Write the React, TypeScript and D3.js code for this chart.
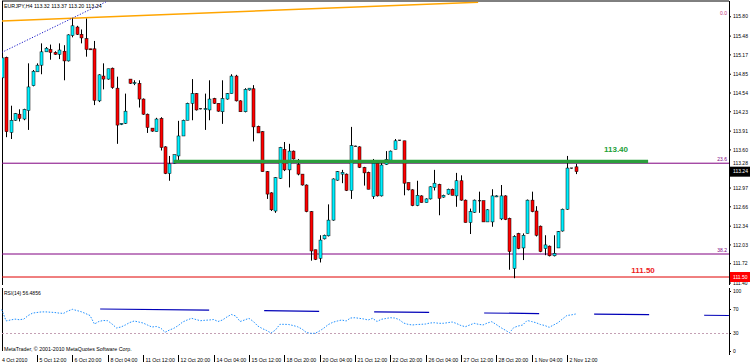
import * as d3 from "d3";

// EURJPY H4, 4 Oct 2010 .. 2 Nov 2010
const opens = [
  114.79, 115.13, 113.89, 114.09, 114.19, 114.11, 114.25, 114.66, 114.89, 115.0,
  115.22, 115.26, 115.21, 115.18, 115.23, 115.07, 115.49, 115.63, 115.51, 115.44,
  115.27, 115.27, 114.41, 114.82, 114.77, 114.95, 114.62, 114.02, 114.04, 114.77,
  114.7, 114.7, 114.44, 114.19, 113.96, 113.9, 114.12, 113.65, 113.21, 113.38,
  113.5, 113.83, 114.09, 114.37, 114.53, 114.28, 114.27, 114.26, 114.45, 114.37,
  114.23, 114.44, 114.53, 114.82, 114.41, 114.23, 114.59, 114.61, 113.99, 113.9,
  113.24, 112.89, 112.59, 113.13, 113.61, 113.27, 113.58, 113.36, 113.2, 113.02,
  112.58, 111.95, 111.81, 112.13, 112.18, 112.44, 113.1, 113.2, 113.2, 112.93,
  113.66, 113.65, 113.31, 113.23, 112.83, 113.38, 112.84, 113.36, 113.43, 113.61,
  113.76, 113.75, 113.06, 112.94, 112.68, 112.84, 112.73, 112.79, 112.98, 113.03,
  112.82, 112.87, 112.95, 112.84, 113.09, 112.77, 112.4, 112.57, 112.76, 112.76,
  112.41, 112.41, 112.83, 112.46, 112.84, 112.47, 111.64, 112.22, 111.98, 112.22,
  112.77, 112.59, 112.34, 111.97, 112.01, 111.85, 111.98, 112.26, 112.62, 113.3,
  113.32,
];
const highs = [
  115.13, 115.14, 114.33, 114.21, 114.27, 114.28, 115.03, 114.92, 115.03, 115.36,
  115.3, 115.34, 115.23, 115.36, 115.33, 115.51, 115.77, 115.65, 115.59, 115.77,
  115.27, 115.4, 114.85, 115.03, 114.94, 114.96, 114.81, 114.04, 114.53, 114.77,
  114.75, 114.75, 114.45, 114.2, 113.96, 114.13, 114.14, 113.66, 113.5, 113.52,
  114.08, 114.1, 114.38, 114.77, 114.54, 114.28, 114.53, 114.75, 114.46, 114.37,
  114.75, 114.54, 114.85, 114.84, 114.42, 114.62, 114.62, 114.67, 114.0, 113.91,
  113.25, 112.9, 113.15, 113.65, 113.73, 113.7, 113.59, 113.45, 113.2, 113.03,
  112.59, 111.95, 112.19, 112.2, 112.7, 113.13, 113.25, 113.27, 113.21, 113.98,
  113.67, 113.66, 113.32, 113.24, 113.45, 113.38, 113.42, 113.58, 113.59, 113.78,
  113.76, 113.75, 113.06, 112.95, 113.09, 112.85, 112.8, 113.0, 113.27, 113.04,
  112.86, 112.96, 112.96, 113.22, 113.18, 112.78, 112.63, 112.78, 112.91, 112.76,
  112.62, 112.95, 112.85, 113.02, 112.85, 112.48, 112.19, 112.23, 112.22, 112.78,
  112.91, 112.67, 112.35, 112.19, 112.02, 112.19, 112.26, 112.63, 113.5, 113.3,
  113.37,
];
const lows = [
  114.77, 113.81, 113.78, 114.08, 114.07, 114.09, 113.93, 114.65, 114.89, 114.85,
  115.22, 115.09, 115.17, 115.1, 114.75, 115.06, 115.46, 115.5, 115.36, 115.14,
  115.25, 114.34, 114.39, 114.6, 114.76, 114.61, 113.7, 114.01, 114.03, 114.69,
  114.67, 114.3, 114.18, 113.88, 113.9, 113.9, 113.59, 113.2, 113.09, 113.37,
  113.43, 113.83, 114.09, 114.09, 114.25, 114.27, 113.93, 114.09, 114.36, 114.23,
  114.03, 114.43, 114.53, 114.4, 114.23, 114.22, 114.58, 113.74, 113.88, 113.24,
  112.79, 112.59, 112.56, 113.12, 113.25, 112.98, 113.44, 113.18, 113.01, 112.57,
  111.77, 111.78, 111.74, 112.12, 112.17, 112.43, 113.09, 113.05, 112.92, 112.79,
  113.66, 113.3, 113.01, 112.95, 112.79, 112.83, 112.83, 113.35, 113.42, 113.61,
  113.75, 112.85, 112.93, 112.67, 112.67, 112.73, 112.73, 112.78, 112.93, 112.52,
  112.81, 112.86, 112.85, 112.66, 112.76, 112.4, 112.21, 112.56, 112.56, 112.41,
  112.41, 112.33, 112.82, 112.44, 112.44, 111.62, 111.48, 111.96, 111.78, 112.22,
  112.57, 112.17, 111.91, 111.86, 111.84, 111.84, 111.98, 112.25, 112.61, 113.29,
  113.2,
];
const closes = [
  115.12, 113.9, 114.09, 114.2, 114.12, 114.27, 114.64, 114.9, 115.0, 115.22,
  115.28, 115.21, 115.18, 115.25, 115.07, 115.5, 115.65, 115.51, 115.45, 115.26,
  115.26, 114.42, 114.84, 114.77, 114.94, 114.63, 114.01, 114.04, 114.24, 114.7,
  114.71, 114.44, 114.19, 113.97, 113.91, 114.11, 113.64, 113.21, 113.37, 113.52,
  113.83, 114.09, 114.37, 114.53, 114.26, 114.28, 114.28, 114.44, 114.37, 114.24,
  114.45, 114.53, 114.82, 114.41, 114.23, 114.6, 114.62, 113.98, 113.88, 113.24,
  112.87, 112.61, 113.14, 113.64, 113.27, 113.58, 113.45, 113.2, 113.02, 112.58,
  111.93, 111.79, 112.11, 112.19, 112.44, 113.12, 113.24, 113.23, 112.93, 113.67,
  113.66, 113.31, 113.22, 112.95, 113.38, 112.84, 113.35, 113.44, 113.58, 113.75,
  113.76, 113.05, 112.94, 112.68, 112.85, 112.73, 112.79, 112.99, 113.05, 112.8,
  112.85, 112.95, 112.85, 113.09, 112.77, 112.4, 112.58, 112.77, 112.76, 112.41,
  112.61, 112.84, 112.84, 112.84, 112.45, 111.92, 112.17, 111.97, 112.19, 112.77,
  112.58, 112.19, 111.92, 112.03, 111.85, 111.89, 112.25, 112.62, 113.3, 113.3,
  113.24,
];

const rsiValues = [
  70, 51, 52.5, 54, 53, 54, 60, 64, 65, 66,
  66, 65.5, 65, 64, 63.5, 67.5, 70.3, 68.3, 66.3, 63.3,
  60, 45.8, 50, 51.7, 51.3, 45.8, 39.2, 40.8, 44.2, 48.3,
  50.8, 49.2, 47.5, 44.2, 40.8, 41.7, 39.2, 32, 35.8, 38.7,
  43.3, 49.2, 52.5, 55.3, 53.3, 51.3, 52, 52.5, 53.3, 50,
  52.5, 57.5, 61.7, 59.2, 50, 52.5, 55.3, 50, 42.5, 38.3,
  35, 30.8, 35.8, 45.3, 45.3, 45, 43.3, 41.3, 37.5, 31.7,
  30.3, 30.3, 34.2, 39.2, 45, 48.7, 50.8, 52.5, 50.8, 55.8,
  56.3, 55.3, 54.2, 52.5, 55.3, 50, 53.7, 55, 56.3, 55.8,
  53.3, 47.5, 45.3, 44.2, 45, 45.3, 45.8, 47.5, 48, 47,
  47, 48, 49.2, 46.7, 43.3, 41.3, 44.2, 47, 45.3, 44.2,
  47.5, 49.7, 45, 40, 35.8, 31.3, 40, 42.5, 44.2, 51.7,
  50, 48, 45, 43.3, 40.3, 44.2, 48, 54.2, 60, 61,
  62.5,
];

const timeLabels = [
  "4 Oct 2010", "5 Oct 12:00", "6 Oct 20:00", "8 Oct 04:00", "11 Oct 12:00",
  "12 Oct 20:00", "14 Oct 04:00", "15 Oct 12:00", "18 Oct 20:00", "20 Oct 04:00",
  "21 Oct 12:00", "22 Oct 20:00", "26 Oct 04:00", "27 Oct 12:00", "28 Oct 20:00",
  "1 Nov 04:00", "2 Nov 12:00",
];
const timeLabelStep = 8;

const priceTicks = [
  115.8, 115.48, 115.17, 114.85, 114.54, 114.23, 113.91, 113.6, 113.28, 112.97,
  112.66, 112.34, 112.03, 111.72, 111.4,
];
const rsiTicks = [100, 70, 30, 0];
const rsiLevel = 30;

const greenLevel = 113.4;
const greenFrom = 39;
const greenTo = 146.4;
const redLevel = 111.5;
const fibLevels = [
  { label: "23.6", price: 113.38 },
  { label: "38.2", price: 111.88 },
];
const fibZero = 115.86;
const orangeTrend: [number, number][] = [[0, 115.73], [107.9, 116.04]];
const blueTrend: [number, number][] = [[0, 115.21], [24, 116.06]];
const rsiTrend: [number, number][] = [[22.3, 70.8], [164.7, 60]];

const lastPrice = 113.24;
const header = "EURJPY,H4  113.32 113.37 113.20 113.24";
const rsiHeader = "RSI(14) 56.4856";
const copyright = "MetaTrader, \u00a9 2001-2010 MetaQuotes Software Corp.";

const FONT = "'Liberation Sans', Arial, sans-serif";
const UP = "#00f0ff";
const DOWN = "#ff0000";
const PURPLE = "#800080";

const App = () => {
  const x = d3.scaleLinear().domain([0, opens.length - 1]).range([1.7, 575.7]);
  const y = d3.scaleLinear().domain([redLevel, greenLevel]).range([277, 162]);
  const yr = d3.scaleLinear().domain([0, 100]).range([351.5, 291.5]);

  const plotRight = 729;
  const trend = d3
    .line<[number, number]>()
    .x((d) => x(d[0]))
    .y((d) => y(d[1]));
  const rsiPath = d3
    .line<number>()
    .x((d, i) => x(i))
    .y((d) => yr(d))(rsiValues) as string;
  const rsiTrendPath = d3
    .line<[number, number]>()
    .x((d) => x(d[0]))
    .y((d) => yr(d[1]))(rsiTrend) as string;

  // label hidden behind the price box peeks out above it
  const tickY = (p: number) => {
    const ty = y(p);
    const by = y(lastPrice);
    return Math.abs(ty - by) < 7 ? by - 8.5 : ty;
  };

  return (
    <svg
      width={750}
      height={364}
      style={{ position: "absolute", left: 0, top: 0, background: "#fff" }}
      fontFamily={FONT}
    >
      <defs>
        <clipPath id="main">
          <rect x={2} y={1.5} width={plotRight - 2} height={283} />
        </clipPath>
      </defs>

      {/* frame */}
      <line x1={2} y1={1} x2={plotRight} y2={1} stroke="#000" />
      <line x1={2.5} y1={1} x2={2.5} y2={285} stroke="#000" />
      <line x1={2.5} y1={288} x2={2.5} y2={351} stroke="#000" />
      <line x1={plotRight + 0.5} y1={1} x2={plotRight + 0.5} y2={285} stroke="#000" />
      <line x1={plotRight + 0.5} y1={288} x2={plotRight + 0.5} y2={355} stroke="#000" />

      <g clipPath="url(#main)">
        {/* fibo levels */}
        {fibLevels.map((f) => (
          <g key={f.label}>
            <line x1={2} x2={plotRight} y1={y(f.price)} y2={y(f.price)} stroke={PURPLE} strokeWidth={1} />
            <text x={727} y={y(f.price) - 2} fontSize={5} fill={PURPLE} textAnchor="end">
              {f.label}
            </text>
          </g>
        ))}
        <text x={727} y={y(fibZero) + 1.5} fontSize={5} fill="#c0307a" textAnchor="end">
          0.0
        </text>

        {/* support */}
        <line x1={2} x2={plotRight} y1={y(redLevel)} y2={y(redLevel)} stroke="#e00000" strokeWidth={1} />

        {/* trendlines */}
        <path d={trend(orangeTrend) as string} stroke="#ffa500" strokeWidth={1.6} fill="none" />
        <path d={trend(blueTrend) as string} stroke="#1a1ac8" strokeWidth={1} strokeDasharray="1.2,1.6" fill="none" />

        {/* candles */}
        {opens.map((o, i) => {
          const c = closes[i];
          const cx = Math.round(x(i));
          const top = y(Math.max(o, c));
          const bot = y(Math.min(o, c));
          const doji = Math.abs(o - c) < 0.005;
          return (
            <g key={i}>
              <line x1={cx + 0.5} x2={cx + 0.5} y1={y(highs[i])} y2={y(lows[i])} stroke="#000" strokeWidth={1} />
              {doji ? (
                <line x1={cx - 1} x2={cx + 2} y1={top} y2={top} stroke="#000" strokeWidth={1} />
              ) : (
                <rect
                  x={cx - 1}
                  y={top}
                  width={3}
                  height={Math.max(bot - top, 1)}
                  fill={c > o ? UP : DOWN}
                  stroke="#000"
                  strokeWidth={0.5}
                />
              )}
            </g>
          );
        })}

        {/* resistance zone */}
        <line
          x1={x(greenFrom)}
          x2={x(greenTo)}
          y1={y(greenLevel) - 0.6}
          y2={y(greenLevel) - 0.6}
          stroke="#2b9e3c"
          strokeWidth={3.5}
        />
      </g>

      <text x={616} y={y(greenLevel) - 10} fontSize={8} fontWeight="bold" fill="#22a038" textAnchor="middle">
        {greenLevel.toFixed(2)}
      </text>
      <text x={643} y={y(redLevel) - 4} fontSize={8} fontWeight="bold" fill="#ee1c1c" textAnchor="middle">
        {redLevel.toFixed(2)}
      </text>

      <text x={4} y={8} fontSize={5.3} fill="#000">
        {header}
      </text>

      {/* price axis */}
      {priceTicks.map((p) => (
        <g key={p}>
          <line x1={plotRight} x2={plotRight + 2} y1={y(p)} y2={y(p)} stroke="#000" />
          <text x={733} y={tickY(p)} dy="0.35em" fontSize={5} fill="#000">
            {p.toFixed(2)}
          </text>
        </g>
      ))}
      <rect x={plotRight + 1} y={y(lastPrice) - 5} width={21} height={10} fill="#000" />
      <text x={733} y={y(lastPrice)} dy="0.35em" fontSize={5} fill="#fff">
        {lastPrice.toFixed(2)}
      </text>
      <rect x={plotRight + 1} y={y(redLevel) - 5} width={21} height={10} fill="#ff0000" />
      <text x={733} y={y(redLevel)} dy="0.35em" fontSize={5} fill="#fff">
        {redLevel.toFixed(2)}
      </text>

      {/* RSI window */}
      <text x={4} y={295} fontSize={5} fill="#000">
        {rsiHeader}
      </text>
      <line
        x1={2}
        x2={plotRight}
        y1={yr(rsiLevel)}
        y2={yr(rsiLevel)}
        stroke="#c4a0b4"
        strokeDasharray="2,2"
      />
      <path
        d={rsiTrendPath}
        stroke="#0000b8"
        strokeWidth={1.2}
        fill="none"
        strokeDasharray="109,55,55,55,55,55,55,55,55,55,55,55"
      />
      <path d={rsiPath} stroke="#1e90ff" strokeWidth={1} fill="none" strokeDasharray="1.5,1.5" />
      {rsiTicks.map((t) => (
        <g key={t}>
          <line x1={plotRight} x2={plotRight + 2} y1={yr(t)} y2={yr(t)} stroke="#000" />
          <text x={733} y={yr(t)} dy="0.35em" fontSize={5} fill="#000">
            {t}
          </text>
        </g>
      ))}
      <text x={4} y={351} fontSize={5.3} fill="#000">
        {copyright}
      </text>

      {/* time axis */}
      {timeLabels.map((t, k) => {
        const tx = Math.round(x(k * timeLabelStep));
        return (
          <g key={t}>
            {k > 0 && <line x1={tx + 0.5} x2={tx + 0.5} y1={355} y2={362} stroke="#000" />}
            <text x={k > 0 ? tx + 2.5 : 2} y={361.5} fontSize={5.2} fill="#000">
              {t}
            </text>
          </g>
        );
      })}
    </svg>
  );
};

export default App;
